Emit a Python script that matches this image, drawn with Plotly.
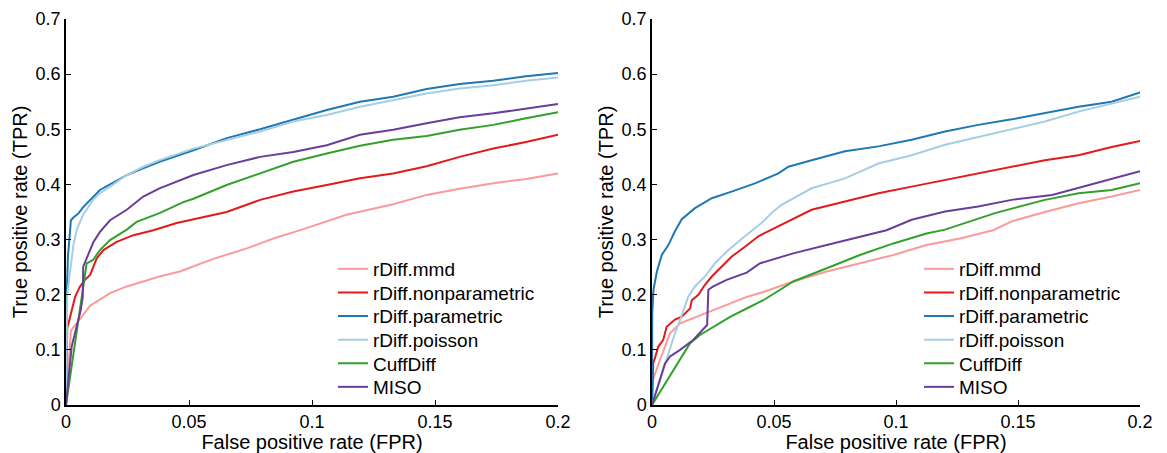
import plotly.graph_objects as go

# ---------------- data (FPR, TPR) ----------------
names = ["rDiff.mmd", "rDiff.nonparametric", "rDiff.parametric", "rDiff.poisson", "CuffDiff", "MISO"]
colors = ["#fb9a99", "#e31a1c", "#1f78b4", "#a6cee3", "#33a02c", "#6a3d9a"]

# Left panel
L_mmd_x = [0, 0.001, 0.002, 0.0043, 0.0084, 0.0098, 0.0179, 0.0247, 0.0314, 0.038, 0.0463, 0.0545, 0.0599, 0.0735, 0.0843, 0.0965, 0.114, 0.133, 0.1466, 0.16, 0.1737, 0.187, 0.2]
L_mmd_y = [0, 0.06, 0.135, 0.148, 0.172, 0.18, 0.203, 0.215, 0.224, 0.233, 0.242, 0.256, 0.265, 0.284, 0.302, 0.319, 0.345, 0.364, 0.381, 0.392, 0.402, 0.41, 0.42]

L_nonpar_x = [0, 0.0005, 0.001, 0.0023, 0.0037, 0.0057, 0.0077, 0.0098, 0.0125, 0.0152, 0.0206, 0.0274, 0.0355, 0.045, 0.0545, 0.0653, 0.0789, 0.0924, 0.106, 0.1195, 0.133, 0.1466, 0.16, 0.1737, 0.187, 0.2]
L_nonpar_y = [0, 0.14, 0.148, 0.172, 0.196, 0.215, 0.227, 0.236, 0.266, 0.281, 0.296, 0.308, 0.317, 0.33, 0.339, 0.35, 0.372, 0.387, 0.399, 0.411, 0.42, 0.433, 0.45, 0.465, 0.477, 0.49]

L_par_x = [0, 0.0003, 0.0008, 0.0016, 0.002, 0.003, 0.005, 0.007, 0.011, 0.0138, 0.0179, 0.0247, 0.0314, 0.038, 0.0518, 0.0653, 0.0789, 0.0924, 0.106, 0.1195, 0.133, 0.1466, 0.16, 0.1737, 0.187, 0.2]
L_par_y = [0, 0.2, 0.27, 0.31, 0.335, 0.34, 0.347, 0.359, 0.377, 0.39, 0.4, 0.417, 0.429, 0.441, 0.462, 0.484, 0.5, 0.517, 0.535, 0.55, 0.559, 0.573, 0.582, 0.588, 0.596, 0.602]

L_poi_x = [0, 0.0005, 0.0016, 0.003, 0.0045, 0.007, 0.011, 0.0138, 0.0179, 0.0247, 0.0314, 0.038, 0.0518, 0.0653, 0.0789, 0.0924, 0.106, 0.1195, 0.133, 0.1466, 0.16, 0.1737, 0.187, 0.2]
L_poi_y = [0, 0.2, 0.24, 0.29, 0.32, 0.345, 0.372, 0.384, 0.396, 0.417, 0.432, 0.444, 0.465, 0.481, 0.496, 0.514, 0.526, 0.541, 0.553, 0.565, 0.574, 0.58, 0.588, 0.594]

L_cuff_x = [0, 0.0084, 0.011, 0.0138, 0.0179, 0.0247, 0.0287, 0.038, 0.0477, 0.0518, 0.0653, 0.0789, 0.0924, 0.106, 0.1195, 0.133, 0.1466, 0.16, 0.1737, 0.187, 0.2]
L_cuff_y = [0, 0.257, 0.263, 0.281, 0.299, 0.318, 0.332, 0.348, 0.368, 0.374, 0.399, 0.42, 0.441, 0.456, 0.47, 0.481, 0.488, 0.499, 0.508, 0.52, 0.531]

L_miso_x = [0, 0.0023, 0.0043, 0.006, 0.0068, 0.007, 0.0084, 0.0111, 0.0138, 0.0179, 0.0247, 0.0314, 0.038, 0.0518, 0.0653, 0.0789, 0.0924, 0.106, 0.1195, 0.133, 0.1466, 0.16, 0.1737, 0.187, 0.2]
L_miso_y = [0, 0.106, 0.142, 0.172, 0.196, 0.251, 0.266, 0.295, 0.314, 0.335, 0.354, 0.378, 0.393, 0.417, 0.435, 0.45, 0.459, 0.471, 0.49, 0.499, 0.511, 0.522, 0.529, 0.538, 0.546]

# Right panel
R_mmd_x = [0, 0.0003, 0.0033, 0.0074, 0.0115, 0.0183, 0.0251, 0.032, 0.0388, 0.0456, 0.0579, 0.0716, 0.0852, 0.0989, 0.1125, 0.1262, 0.1398, 0.1474, 0.161, 0.1748, 0.1884, 0.2]
R_mmd_y = [0, 0.045, 0.082, 0.13, 0.148, 0.16, 0.172, 0.185, 0.196, 0.205, 0.224, 0.242, 0.257, 0.272, 0.29, 0.302, 0.317, 0.333, 0.35, 0.366, 0.378, 0.39]

R_nonpar_x = [0, 0.0005, 0.0012, 0.0026, 0.0046, 0.006, 0.0094, 0.0122, 0.0156, 0.0163, 0.019, 0.0217, 0.0245, 0.0285, 0.0326, 0.0381, 0.0436, 0.049, 0.0545, 0.0654, 0.0791, 0.0928, 0.1064, 0.1201, 0.1337, 0.1474, 0.161, 0.1748, 0.1884, 0.2]
R_nonpar_y = [0, 0.076, 0.085, 0.106, 0.118, 0.142, 0.155, 0.16, 0.175, 0.19, 0.2, 0.218, 0.233, 0.251, 0.269, 0.287, 0.306, 0.318, 0.33, 0.354, 0.369, 0.384, 0.396, 0.408, 0.421, 0.432, 0.444, 0.453, 0.468, 0.479]

R_par_x = [0, 0.0001, 0.0006, 0.002, 0.004, 0.0067, 0.0094, 0.0122, 0.0176, 0.0245, 0.0326, 0.0422, 0.0518, 0.0559, 0.0654, 0.0791, 0.0928, 0.1064, 0.1201, 0.1337, 0.1474, 0.161, 0.1748, 0.1884, 0.2]
R_par_y = [0, 0.166, 0.209, 0.242, 0.272, 0.29, 0.315, 0.337, 0.357, 0.375, 0.387, 0.402, 0.42, 0.432, 0.444, 0.46, 0.469, 0.481, 0.496, 0.508, 0.518, 0.53, 0.541, 0.55, 0.567]

R_poi_x = [0, 0.006, 0.0094, 0.0115, 0.0149, 0.0176, 0.0217, 0.0258, 0.0313, 0.0381, 0.0449, 0.049, 0.0531, 0.0654, 0.0791, 0.0928, 0.1064, 0.1201, 0.1337, 0.1474, 0.161, 0.1748, 0.1884, 0.2]
R_poi_y = [0, 0.082, 0.13, 0.154, 0.197, 0.215, 0.233, 0.257, 0.281, 0.306, 0.33, 0.348, 0.363, 0.393, 0.411, 0.438, 0.453, 0.472, 0.486, 0.499, 0.514, 0.532, 0.547, 0.559]

R_cuff_x = [0, 0.0156, 0.0197, 0.0251, 0.032, 0.0388, 0.0456, 0.0525, 0.0579, 0.0716, 0.0852, 0.0989, 0.1125, 0.1201, 0.1337, 0.1406, 0.161, 0.1748, 0.1884, 0.2]
R_cuff_y = [0, 0.112, 0.127, 0.142, 0.16, 0.175, 0.19, 0.209, 0.224, 0.248, 0.272, 0.293, 0.311, 0.318, 0.338, 0.348, 0.372, 0.384, 0.39, 0.402]

R_miso_x = [0, 0.004, 0.0053, 0.0074, 0.0115, 0.0169, 0.0217, 0.0226, 0.0231, 0.0251, 0.0306, 0.0388, 0.0443, 0.0579, 0.0716, 0.0852, 0.0961, 0.1064, 0.1201, 0.1337, 0.1474, 0.164, 0.1816, 0.1939, 0.2]
R_miso_y = [0, 0.057, 0.075, 0.088, 0.1, 0.118, 0.142, 0.145, 0.209, 0.215, 0.227, 0.24, 0.257, 0.275, 0.29, 0.305, 0.317, 0.336, 0.351, 0.36, 0.372, 0.381, 0.402, 0.417, 0.424]

x_tickvals = [0, 0.05, 0.1, 0.15, 0.2]
x_ticktext = ["0", "0.05", "0.1", "0.15", "0.2"]
y_tickvals = [0, 0.1, 0.2, 0.3, 0.4, 0.5, 0.6, 0.7]
y_ticktext = ["0", "0.1", "0.2", "0.3", "0.4", "0.5", "0.6", "0.7"]

left_series = [(L_mmd_x, L_mmd_y), (L_nonpar_x, L_nonpar_y), (L_par_x, L_par_y),
               (L_poi_x, L_poi_y), (L_cuff_x, L_cuff_y), (L_miso_x, L_miso_y)]
right_series = [(R_mmd_x, R_mmd_y), (R_nonpar_x, R_nonpar_y), (R_par_x, R_par_y),
                (R_poi_x, R_poi_y), (R_cuff_x, R_cuff_y), (R_miso_x, R_miso_y)]

# page has an 8px default body margin; lay the figure out in page pixels minus that offset
OFF = 8
PAGE_W, PAGE_H = 1167, 453
W, H = PAGE_W - OFF, PAGE_H - OFF
FONT = "Liberation Sans, Arial, Helvetica, sans-serif"
LEG_FONT = 19
LEG_ROW0 = 269 - OFF   # pixel centre of first legend row
LEG_STEP = 23.6        # pixel spacing of legend rows
LEG_X = {"left": 333 - OFF, "right": 919 - OFF}

def px_x(p):
    return (p - OFF) / W

def px_y(p):
    return 1 - (p - OFF) / H

fig = go.Figure()
layout_legends = {}
k = 0
for panel, series, xa, ya in [("left", left_series, "x", "y"), ("right", right_series, "x2", "y2")]:
    for i, ((xs, ys), n, c) in enumerate(zip(series, names, colors)):
        k += 1
        lname = "legend" if k == 1 else f"legend{k}"
        fig.add_trace(go.Scatter(x=xs, y=ys, mode="lines", name=n, line=dict(color=c, width=2),
                                 xaxis=xa, yaxis=ya, legend=lname))
        layout_legends[lname] = dict(
            x=LEG_X[panel] / W, y=1 - (LEG_ROW0 + i * LEG_STEP) / H,
            xanchor="left", yanchor="middle",
            font=dict(size=LEG_FONT, color="black", family=FONT),
            bgcolor="rgba(0,0,0,0)", borderwidth=0)

def xax(domain, anchor):
    return dict(domain=domain, anchor=anchor, range=[0, 0.2], tickvals=x_tickvals, ticktext=x_ticktext,
                showline=True, linecolor="black", linewidth=1.5, ticks="inside", ticklen=5,
                tickcolor="black", tickwidth=1.2, showgrid=False, zeroline=False, mirror=False,
                automargin=False,
                tickfont=dict(size=18, color="black", family=FONT),
                title=dict(text="False positive rate (FPR)", font=dict(size=20, color="black", family=FONT), standoff=1))

def yax(domain, anchor):
    return dict(domain=domain, anchor=anchor, range=[0, 0.7], tickvals=y_tickvals, ticktext=y_ticktext,
                showline=True, linecolor="black", linewidth=1.5, ticks="inside", ticklen=5,
                tickcolor="black", tickwidth=1.2, showgrid=False, zeroline=False, mirror=False,
                automargin=False,
                tickfont=dict(size=18, color="black", family=FONT),
                title=dict(text="True positive rate (TPR)", font=dict(size=20, color="black", family=FONT), standoff=3))

ydom = [px_y(405), px_y(19)]

fig.update_layout(
    width=W, height=H,
    margin=dict(l=0, r=0, t=0, b=0),
    paper_bgcolor="white", plot_bgcolor="white",
    font=dict(family=FONT, color="black"),
    xaxis=xax([px_x(66), px_x(558)], "y"),
    yaxis=yax(ydom, "x"),
    xaxis2=xax([px_x(652), px_x(1140)], "y2"),
    yaxis2=yax(ydom, "x2"),
    showlegend=True,
    **layout_legends,
)

fig.write_html("out.html")
